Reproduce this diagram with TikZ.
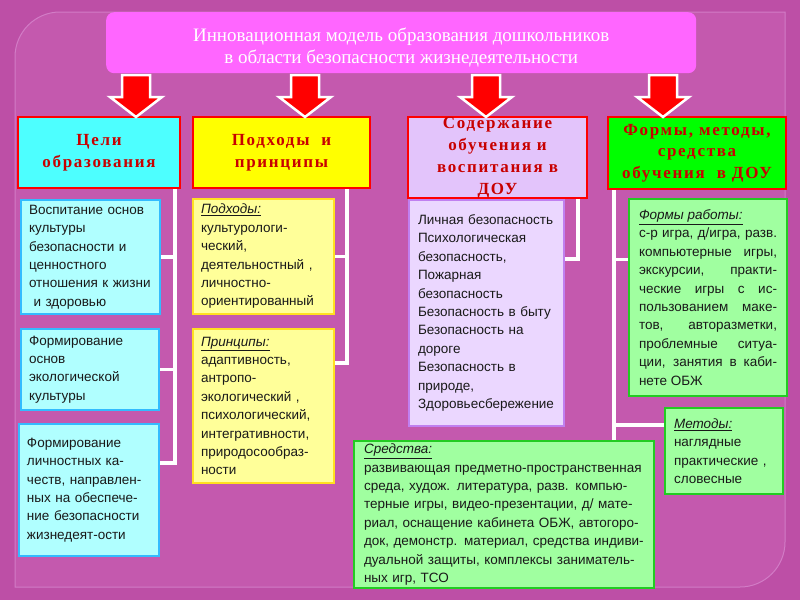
\documentclass[tikz,border=0pt]{standalone}
\usepackage{fontspec}
\setmainfont{Liberation Serif}
\setsansfont{Liberation Sans}
\newfontfamily\headfont[LetterSpace=10]{Liberation Serif}
\newfontfamily\bodyfont{Liberation Sans}
\usepackage{xcolor}
\usepackage{tikz}
\usetikzlibrary{calc}

\definecolor{bgmag}{HTML}{BD4FA6}
\definecolor{panelmag}{HTML}{C459AE}
\definecolor{paneledge}{HTML}{D27CC6}
\definecolor{titlepink}{HTML}{FF66FF}
\definecolor{hdred}{HTML}{C80000}
\definecolor{hcyan}{HTML}{4DFFFF}
\definecolor{hyellow}{HTML}{FFFF00}
\definecolor{hlilac}{HTML}{E3C4FB}
\definecolor{hgreen}{HTML}{00FF00}
\definecolor{bcyan}{HTML}{B0FFFF}
\definecolor{bcyanedge}{HTML}{33BBFF}
\definecolor{byellow}{HTML}{FFFF99}
\definecolor{byellowedge}{HTML}{FFE020}
\definecolor{blilac}{HTML}{EBD7FF}
\definecolor{blilacedge}{HTML}{C080F0}
\definecolor{bgreen}{HTML}{A0FFA0}
\definecolor{bgreenedge}{HTML}{22CC22}

\newcommand{\lbl}[1]{\underline{\textit{#1}}}

\begin{document}
\begin{tikzpicture}[
  x=1pt, y=-1pt,
  head/.style={draw=red, line width=2pt, anchor=north west, inner sep=0pt,
               align=center, text=hdred,
               font=\headfont\fontsize{17}{21.5}\selectfont\bfseries},
  body/.style={line width=2pt, anchor=north west, inner xsep=8pt, inner ysep=0pt,
               align=left, text=black!90,
               font=\bodyfont\fontsize{13.5}{18.4}\selectfont},
  goalbox/.style={body, draw=bcyanedge, fill=bcyan},
  apprbox/.style={body, draw=byellowedge, fill=byellow},
  contbox/.style={body, draw=blilacedge, fill=blilac, inner xsep=9pt},
  formbox/.style={body, draw=bgreenedge, fill=bgreen, inner xsep=10pt},
  link/.style={draw=white, line width=3.5pt},
  downarrow/.style={fill=red, draw=white, line width=2.5pt, line join=miter}
]
\useasboundingbox (0,0) rectangle (800,600);
\fill[bgmag] (0,0) rectangle (800,600);
\filldraw[fill=panelmag, draw=paneledge, line width=1pt]
  (15,587) -- (15,57) arc[start angle=180, end angle=90, radius=45pt]
  -- (785,12) -- (785,542) arc[start angle=0, end angle=-90, radius=45pt] -- cycle;

% title
\node[fill=titlepink, rounded corners=8pt, anchor=north west, inner sep=0pt,
      minimum width=590pt, minimum height=61pt, align=center, text=white,
      font=\fontsize{19}{22.5}\selectfont] (title) at (106,12)
  {\rule{0pt}{23pt}Инновационная модель образования дошкольников\\
   в области безопасности жизнедеятельности};

% headers
\node[head, fill=hcyan, minimum width=162pt, minimum height=71pt] (goals) at (17,116)
  {Цели\\образования};
\node[head, fill=hyellow, minimum width=177pt, minimum height=71pt] (appr) at (192,116)
  {Подходы \ и\\принципы};
\node[head, fill=hlilac, minimum width=179pt, minimum height=72pt,
      font=\headfont\fontsize{17}{22}\selectfont\bfseries] (cont) at (407,116)
  {Содержание\\обучения и\\воспитания в\\ДОУ};
\node[head, fill=hgreen, minimum width=178pt, minimum height=72pt] (forms) at (607,116)
  {Формы, методы,\\средства\\обучения \ в ДОУ};

% arrows from the title
\foreach \ax in {136,305,486,663}
  \draw[downarrow] (\ax-14,75) -- (\ax+14,75) -- (\ax+14,97) -- (\ax+26,97)
    -- (\ax,117) -- (\ax-26,97) -- (\ax-14,97) -- cycle;

% goals column
\node[goalbox, text width=123pt, minimum height=114pt] (g1) at (20,199)
  {Воспитание основ\\культуры\\безопасности и\\ценностного\\отношения к жизни\\\ и здоровью};
\node[goalbox, text width=122pt, minimum height=81pt] (g2) at (20,328)
  {Формирование\\основ\\экологической\\культуры};
\node[goalbox, text width=124pt, minimum height=132pt] (g3) at (18,423)
  {Формирование\\личностных ка-\\честв, направлен-\\ных на обеспече-\\ние безопасности\\жизнедеят-ости};

% approaches column
\node[apprbox, text width=125pt, minimum height=115pt] (a1) at (192,198)
  {\lbl{Подходы:}\\культурологи-\\ческий,\\деятельностный ,\\личностно-\\ориентированный};
\node[apprbox, text width=125pt, minimum height=154pt] (a2) at (192,328)
  {\lbl{Принципы:}\\адаптивность,\\антропо-\\экологический ,\\психологический,\\интегративности,\\природосообраз-\\ности};

% content column
\node[contbox, text width=137pt, minimum height=226pt] (c1) at (408,199)
  {Личная безопасность\\Психологическая\\безопасность,\\Пожарная\\безопасность\\Безопасность в быту\\Безопасность на\\дороге\\Безопасность в\\природе,\\Здоровьесбережение};

% forms column
\node[formbox, text width=138pt, minimum height=197pt, align=justify] (f1) at (628,198)
  {\lbl{Формы работы:}\\с-р игра, д/игра, разв.\linebreak компьютерные игры,\linebreak
   экскурсии, практи-\linebreak ческие игры с ис-\linebreak пользованием маке-\linebreak
   тов, авторазметки,\linebreak проблемные ситуа-\linebreak ции, занятия в каби-\linebreak нете ОБЖ};
\node[formbox, inner xsep=9pt, text width=100pt, minimum height=86pt] (f2) at (664,407)
  {\lbl{Методы:}\\наглядные\\практические ,\\словесные};
\node[formbox, text width=280pt, minimum height=147pt] (f3) at (353,440)
  {\lbl{Средства:}\\развивающая предметно-пространственная\\среда, худож. литература, разв. компью-\\терные игры, видео-презентации, д/ мате-\\риал, оснащение кабинета ОБЖ, автогоро-\\док, демонстр. материал, средства индиви-\\дуальной защиты, комплексы заниматель-\\ных игр, ТСО};

% connectors
\coordinate (j1) at ([xshift=-6pt]goals.south east);
\coordinate (g3in) at ([yshift=27pt]g3.east);
\draw[link] (j1) |- (g3in);
\draw[link] (j1 |- g1.east) -- (g1.east);
\draw[link] (j1 |- g2.east) -- (g2.east);

\coordinate (j2) at ([xshift=-24pt]appr.south east);
\coordinate (a2in) at ([yshift=43pt]a2.east);
\draw[link] (j2) |- (a2in);
\draw[link] (j2 |- a1.east) -- (a1.east);

\coordinate (j3) at ([xshift=-10pt]cont.south east);
\coordinate (c1in) at ([yshift=54pt]c1.east);
\draw[link] (j3) |- (c1in);

\coordinate (j4) at ([xshift=7pt]forms.south west);
\coordinate (f1in) at ([yshift=38pt]f1.west);
\coordinate (f2in) at ([yshift=26pt]f2.west);
\draw[link] (j4) -- (j4 |- f3.north);
\draw[link] (j4 |- f1in) -- (f1in);
\draw[link] (j4 |- f2in) -- (f2in);
\end{tikzpicture}
\end{document}
